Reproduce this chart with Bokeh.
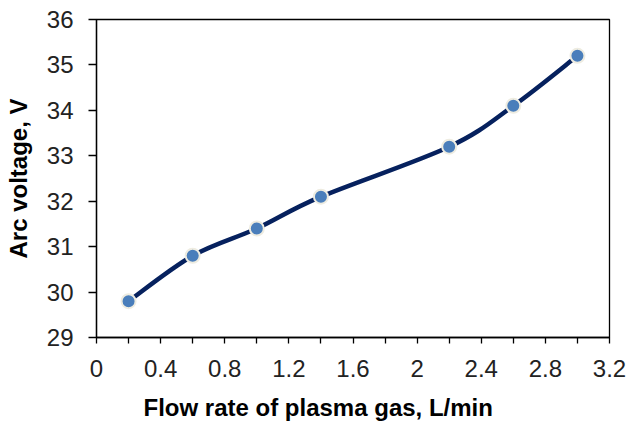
import numpy as np
from bokeh.plotting import figure
from bokeh.models import Range1d, FixedTicker, ColumnDataSource, Title
from bokeh.embed import file_html
from bokeh.resources import INLINE

flow_rate = [0.2, 0.6, 1.0, 1.4, 2.2, 2.6, 3.0]
arc_voltage = [29.8, 30.8, 31.4, 32.1, 33.2, 34.1, 35.2]
x_ticks = [0, 0.4, 0.8, 1.2, 1.6, 2.0, 2.4, 2.8, 3.2]
x_tick_labels = ["0", "0.4", "0.8", "1.2", "1.6", "2", "2.4", "2.8", "3.2"]
x_minor = [0.2, 0.6, 1.0, 1.4, 1.8, 2.2, 2.6, 3.0]
y_ticks = [29, 30, 31, 32, 33, 34, 35, 36]

FONT = "Liberation Sans"

p = figure(width=636, height=433, output_backend="svg", toolbar_location=None,
           x_range=Range1d(0, 3.2), y_range=Range1d(29, 36),
           min_border_left=96, min_border_right=27, min_border_top=19, min_border_bottom=96)
p.xgrid.visible = False
p.ygrid.visible = False
p.outline_line_color = "black"
p.outline_line_width = 1.3
p.outline_line_alpha = 1

# Smooth curve (Catmull-Rom style Bezier through data points)
SX, SY = 160.0, 45.43
px = np.array(flow_rate) * SX
py = np.array(arc_voltage) * SY
n = len(px)
x0s, y0s, x1s, y1s, cx0s, cy0s, cx1s, cy1s = [], [], [], [], [], [], [], []
for i in range(n - 1):
    pm = max(i - 1, 0)
    pp = min(i + 2, n - 1)
    c0x = px[i] + (px[i + 1] - px[pm]) / 6
    c0y = py[i] + (py[i + 1] - py[pm]) / 6
    c1x = px[i + 1] - (px[pp] - px[i]) / 6
    c1y = py[i + 1] - (py[pp] - py[i]) / 6
    x0s.append(flow_rate[i]); y0s.append(arc_voltage[i])
    x1s.append(flow_rate[i + 1]); y1s.append(arc_voltage[i + 1])
    cx0s.append(c0x / SX); cy0s.append(c0y / SY)
    cx1s.append(c1x / SX); cy1s.append(c1y / SY)
src = ColumnDataSource(dict(x0=x0s, y0=y0s, x1=x1s, y1=y1s,
                            cx0=cx0s, cy0=cy0s, cx1=cx1s, cy1=cy1s))
p.bezier(x0="x0", y0="y0", x1="x1", y1="y1", cx0="cx0", cy0="cy0",
         cx1="cx1", cy1="cy1", source=src, line_color="#06215e",
         line_width=4.5, line_cap="round")

p.scatter(flow_rate, arc_voltage, size=14, fill_color="#4a7ebb",
          line_color="#eeece1", line_width=2)

xa = p.xaxis[0]
xa.ticker = FixedTicker(ticks=x_ticks, minor_ticks=x_minor)
xa.major_label_overrides = {t: l for t, l in zip(x_ticks, x_tick_labels)}
xa.major_tick_in = 0
xa.major_tick_out = 6
xa.minor_tick_in = 0
xa.minor_tick_out = 6
xa.major_label_standoff = 16
xa.major_label_text_font = FONT
xa.major_label_text_font_size = "24px"
xa.major_label_text_color = "#222222"
xa.axis_line_width = 1.3
xa.major_tick_line_width = 1.3
xa.minor_tick_line_width = 1.3

ya = p.yaxis[0]
ya.ticker = FixedTicker(ticks=y_ticks)
ya.major_tick_in = 0
ya.major_tick_out = 8
ya.minor_tick_line_color = None
ya.major_label_standoff = 15
ya.major_label_text_font = FONT
ya.major_label_text_font_size = "24px"
ya.major_label_text_color = "#222222"
ya.axis_line_width = 1.3
ya.major_tick_line_width = 1.3
ya.axis_label = "Arc voltage, V"
ya.axis_label_text_font = FONT
ya.axis_label_text_font_size = "24px"
ya.axis_label_text_font_style = "bold"
ya.axis_label_text_color = "black"
ya.axis_label_standoff = 12

p.add_layout(Title(text="Flow rate of plasma gas, L/min", align="left", offset=47,
                   text_font=FONT, text_font_size="24px", text_font_style="bold",
                   text_color="black", standoff=24), "below")

open("out.html", "w").write(file_html(p, INLINE))
